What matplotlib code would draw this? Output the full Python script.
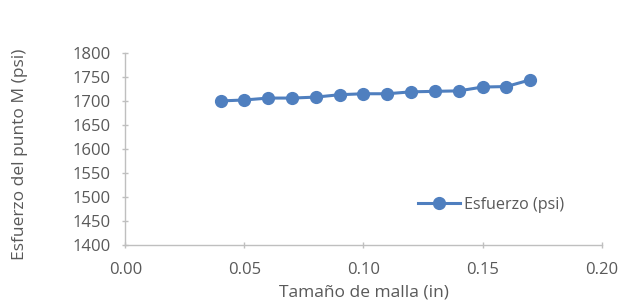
import matplotlib
matplotlib.use("Agg")
import matplotlib.pyplot as plt

# mesh size (in) and stress at point M (psi)
malla = [0.04, 0.05, 0.06, 0.07, 0.08, 0.09, 0.10, 0.11, 0.12, 0.13, 0.14, 0.15, 0.16, 0.17]
esfuerzo = [1700, 1702, 1706, 1706, 1708, 1713, 1715, 1715, 1719, 1720, 1721, 1729, 1730, 1744]
xticks = [0.00, 0.05, 0.10, 0.15, 0.20]
yticks = list(range(1400, 1801, 50))

plt.rcParams["font.family"] = ["Open Sans", "DejaVu Sans"]
txt = "#595959"
axc = "#BFBFBF"

fig = plt.figure(figsize=(6.31, 3.08), dpi=100)
ax = fig.add_axes([0.1985, 0.205, 0.755, 0.623])

ax.plot(malla, esfuerzo, color="#4F7FBF", lw=2.2, marker="o", ms=8.5,
        label="Esfuerzo (psi)")

ax.set_xlim(0, 0.20)
ax.set_ylim(1400, 1800)
ax.set_xticks(xticks)
ax.set_xticklabels([f"{t:.2f}" for t in xticks])
ax.set_yticks(yticks)

for s in ["top", "right"]:
    ax.spines[s].set_visible(False)
for s in ["left", "bottom"]:
    ax.spines[s].set_color(axc)
    ax.spines[s].set_linewidth(1.0)
ax.tick_params(direction="inout", length=5, width=1, color=axc,
               labelcolor=txt, labelsize=12)
ax.tick_params(axis="x", pad=10)
ax.tick_params(axis="y", pad=8)

# axis titles
ax.set_xlabel("Tamaño de malla (in)", color=txt, fontsize=12.5, va="center")
ax.set_ylabel("Esfuerzo del punto M (psi)", color=txt, fontsize=12.5, va="center")
ax.xaxis.set_label_coords(0.5, -0.25)
ax.yaxis.set_label_coords(-0.22, 0.47)

leg = ax.legend(loc="center left", bbox_to_anchor=(0.585, 0.21), frameon=False,
                fontsize=11.6, handlelength=2.6, handletextpad=0.2)
for t in leg.get_texts():
    t.set_color(txt)

fig.savefig("out.png", dpi=100)
